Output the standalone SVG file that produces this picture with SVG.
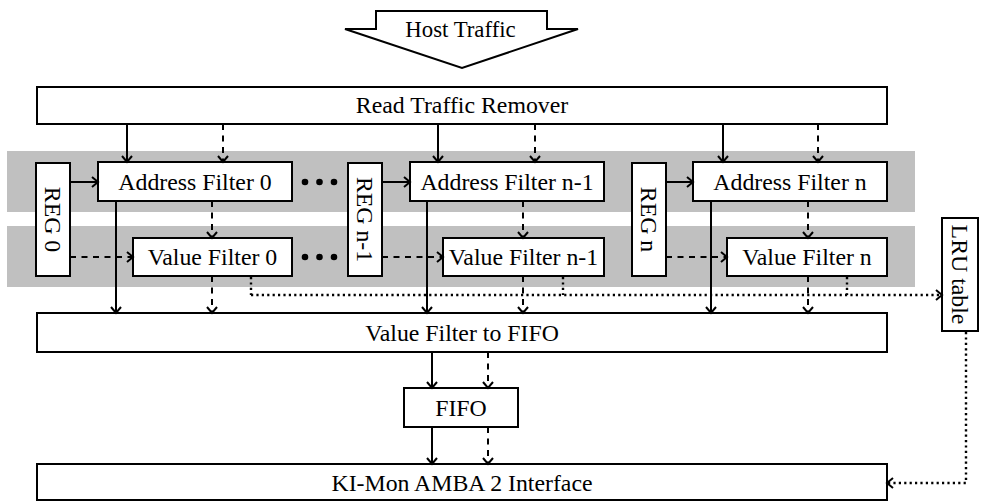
<svg xmlns="http://www.w3.org/2000/svg" width="983" height="502" viewBox="0 0 983 502">
  <style>
    .box { fill: #ffffff; stroke: #000000; stroke-width: 2; }
    .band { fill: #c0c0c0; }
    .lbl { font-family: "Liberation Serif", "Times New Roman", serif; font-size: 23.8px; fill: #000000; text-anchor: middle; }
    .solid { fill: none; stroke: #000000; stroke-width: 2; }
    .dash { fill: none; stroke: #000000; stroke-width: 2; stroke-dasharray: 6 5.5; }
    .dot { fill: none; stroke: #000000; stroke-width: 2.4; stroke-dasharray: 2.2 3.2; }
    .more { fill: #000000; }
  </style>
  <defs>
    <marker id="head" markerUnits="userSpaceOnUse" markerWidth="16" markerHeight="16" viewBox="-8 -8 16 16" refX="0" refY="0" orient="auto">
      <path d="M-6,-5 L0,0 L-6,5" fill="none" stroke="#000000" stroke-width="2"/>
    </marker>
  </defs>

  <!-- shaded rows: address filters and value filters -->
  <rect class="band" x="7" y="151" width="908" height="61"/>
  <rect class="band" x="7" y="226" width="908" height="61"/>

  <!-- incoming host traffic -->
  <g id="host-traffic">
    <polygon class="box" points="376,11 547,11 547,29 578,29 462,68 345,29 376,29"/>
    <text class="lbl" x="460.5" y="37" style="font-size:22.8px">Host Traffic</text>
  </g>

  <g id="read-traffic-remover">
    <rect class="box" x="37" y="87" width="850" height="37"/>
    <text class="lbl" x="462" y="113">Read Traffic Remover</text>
  </g>

  <!-- filter slice 0 -->
  <g id="reg-0">
    <rect class="box" x="36" y="163" width="34" height="113"/>
    <text class="lbl" transform="translate(53,219.5) rotate(90)" y="8">REG 0</text>
  </g>
  <g id="address-filter-0">
    <rect class="box" x="98" y="162" width="194" height="39"/>
    <text class="lbl" x="195" y="189.5">Address Filter 0</text>
  </g>
  <g id="value-filter-0">
    <rect class="box" x="133" y="238" width="159" height="38"/>
    <text class="lbl" x="212.5" y="265">Value Filter 0</text>
  </g>

  <!-- ellipsis between slices -->
  <g id="ellipsis">
    <circle class="more" cx="305" cy="182" r="3.3"/>
    <circle class="more" cx="319.5" cy="182" r="3.3"/>
    <circle class="more" cx="334" cy="182" r="3.3"/>
    <circle class="more" cx="305" cy="257" r="3.3"/>
    <circle class="more" cx="319.5" cy="257" r="3.3"/>
    <circle class="more" cx="334" cy="257" r="3.3"/>
  </g>

  <!-- filter slice n-1 -->
  <g id="reg-n-1">
    <rect class="box" x="348" y="163" width="34" height="113"/>
    <text class="lbl" transform="translate(365,219.5) rotate(90)" y="8">REG n-1</text>
  </g>
  <g id="address-filter-n-1">
    <rect class="box" x="410" y="162" width="194" height="39"/>
    <text class="lbl" x="507" y="189.5">Address Filter n-1</text>
  </g>
  <g id="value-filter-n-1">
    <rect class="box" x="443" y="238" width="161" height="38"/>
    <text class="lbl" x="523.5" y="265">Value Filter n-1</text>
  </g>

  <!-- filter slice n -->
  <g id="reg-n">
    <rect class="box" x="632" y="163" width="34" height="113"/>
    <text class="lbl" transform="translate(649,219.5) rotate(90)" y="8">REG n</text>
  </g>
  <g id="address-filter-n">
    <rect class="box" x="693" y="162" width="194" height="39"/>
    <text class="lbl" x="790" y="189.5">Address Filter n</text>
  </g>
  <g id="value-filter-n">
    <rect class="box" x="727" y="238" width="160" height="38"/>
    <text class="lbl" x="807" y="265">Value Filter n</text>
  </g>

  <g id="lru-table">
    <rect class="box" x="942" y="218" width="36" height="113"/>
    <text class="lbl" transform="translate(960,274.5) rotate(90)" y="8">LRU table</text>
  </g>

  <g id="value-filter-to-fifo">
    <rect class="box" x="37" y="313" width="850" height="39"/>
    <text class="lbl" x="462" y="340.5">Value Filter to FIFO</text>
  </g>

  <g id="fifo">
    <rect class="box" x="404" y="388" width="114" height="39"/>
    <text class="lbl" x="461" y="415.5">FIFO</text>
  </g>

  <g id="ki-mon-amba2">
    <rect class="box" x="37" y="464" width="850" height="36"/>
    <text class="lbl" x="462" y="490.5">KI-Mon AMBA 2 Interface</text>
  </g>

  <g id="connectors">
    <!-- remover to address filters -->
    <line class="solid" x1="127" y1="124" x2="127" y2="162" marker-end="url(#head)"/>
    <line class="dash" x1="223" y1="124" x2="223" y2="162" marker-end="url(#head)"/>
    <line class="solid" x1="438" y1="124" x2="438" y2="162" marker-end="url(#head)"/>
    <line class="dash" x1="535" y1="124" x2="535" y2="162" marker-end="url(#head)"/>
    <line class="solid" x1="723" y1="124" x2="723" y2="162" marker-end="url(#head)"/>
    <line class="dash" x1="818" y1="124" x2="818" y2="162" marker-end="url(#head)"/>

    <!-- registers to filters -->
    <line class="solid" x1="70" y1="182" x2="98" y2="182" marker-end="url(#head)"/>
    <line class="dash" x1="70" y1="257" x2="133" y2="257" marker-end="url(#head)"/>
    <line class="solid" x1="382" y1="182" x2="410" y2="182" marker-end="url(#head)"/>
    <line class="dash" x1="382" y1="257" x2="443" y2="257" marker-end="url(#head)"/>
    <line class="solid" x1="666" y1="182" x2="693" y2="182" marker-end="url(#head)"/>
    <line class="dash" x1="666" y1="257" x2="727" y2="257" marker-end="url(#head)"/>

    <!-- address filter to value filter -->
    <line class="dash" x1="212" y1="201" x2="212" y2="238" marker-end="url(#head)"/>
    <line class="dash" x1="523" y1="201" x2="523" y2="238" marker-end="url(#head)"/>
    <line class="dash" x1="808" y1="201" x2="808" y2="238" marker-end="url(#head)"/>

    <!-- filters down to value-filter-to-fifo -->
    <line class="solid" x1="116" y1="201" x2="116" y2="313" marker-end="url(#head)"/>
    <line class="dash" x1="212" y1="276" x2="212" y2="313" marker-end="url(#head)"/>
    <line class="solid" x1="427" y1="201" x2="427" y2="313" marker-end="url(#head)"/>
    <line class="dash" x1="523" y1="276" x2="523" y2="313" marker-end="url(#head)"/>
    <line class="solid" x1="711" y1="201" x2="711" y2="313" marker-end="url(#head)"/>
    <line class="dash" x1="808" y1="276" x2="808" y2="313" marker-end="url(#head)"/>

    <!-- value filters to LRU table -->
    <line class="dot" x1="251" y1="277" x2="251" y2="295"/>
    <line class="dot" x1="563" y1="277" x2="563" y2="295"/>
    <line class="dot" x1="847" y1="277" x2="847" y2="295"/>
    <line class="dot" x1="251" y1="295" x2="942" y2="295" marker-end="url(#head)"/>

    <!-- FIFO path -->
    <line class="solid" x1="432" y1="352" x2="432" y2="388" marker-end="url(#head)"/>
    <line class="dash" x1="488" y1="352" x2="488" y2="388" marker-end="url(#head)"/>
    <line class="solid" x1="432" y1="427" x2="432" y2="464" marker-end="url(#head)"/>
    <line class="dash" x1="488" y1="427" x2="488" y2="464" marker-end="url(#head)"/>

    <!-- LRU table to interface -->
    <polyline class="dot" points="966,332 966,483 887,483" marker-end="url(#head)"/>
  </g>
</svg>
